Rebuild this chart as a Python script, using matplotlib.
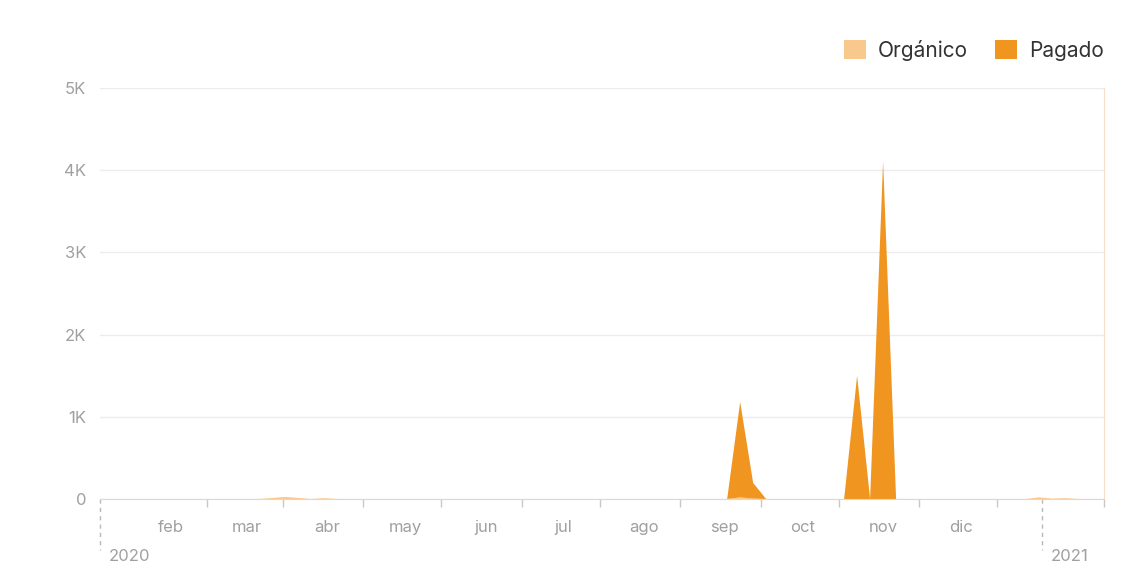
import matplotlib.pyplot as plt
import matplotlib.dates as mdates
import matplotlib.patches as mpatches
import matplotlib.transforms as mtransforms
import pandas as pd

plt.rcParams["font.family"] = ["Inter", "DejaVu Sans"]

# sampled points (every ~5 days, only where something happens)
dates = pd.to_datetime([
    "2020-01-04", "2020-03-06", "2020-03-16", "2020-03-26", "2020-03-31",
    "2020-04-05", "2020-09-02", "2020-09-07", "2020-09-12", "2020-09-17",
    "2020-10-17", "2020-10-22", "2020-10-27", "2020-11-01", "2020-11-06",
    "2020-12-26", "2020-12-31", "2021-01-05", "2021-01-10", "2021-01-15",
    "2021-01-25",
])
organico = [0, 0, 25, 0, 10, 0, 0, 20, 5, 0, 0, 0, 0, 0, 0, 0, 20, 5, 10, 0, 0]
pagado = [0, 0, 0, 0, 0, 0, 0, 1160, 190, 0, 0, 1500, 0, 4110, 0, 0, 0, 0, 0, 0, 0]

series_names = ["Orgánico", "Pagado"]
series_colors = ["#F9C88C", "#F0951F"]

month_ticks = pd.to_datetime(["2020-%02d-01" % m for m in range(2, 13)])
month_labels = ["feb", "mar", "abr", "may", "jun", "jul", "ago", "sep", "oct", "nov", "dic"]
mid_ticks = pd.to_datetime(["2020-%02d-15" % m for m in range(2, 13)])
y_ticks = [0, 1000, 2000, 3000, 4000, 5000]
y_labels = ["0", "1K", "2K", "3K", "4K", "5K"]

x_start = pd.Timestamp("2020-01-04 16:00")
x_end = pd.Timestamp("2021-01-25")
year_2021 = pd.Timestamp("2021-01-01")

fig = plt.figure(figsize=(11.35, 5.76), dpi=100)
ax = fig.add_axes([100 / 1135, 1 - 499 / 576, 1004 / 1135, 411 / 576])

ax.stackplot(dates, organico, pagado, colors=series_colors, linewidth=0)

ax.set_xlim(x_start, x_end)
ax.set_ylim(0, 5000)

ax.set_yticks(y_ticks)
ax.set_yticklabels(y_labels)
ax.tick_params(axis="y", length=0, pad=10, labelsize=12, labelcolor="#a0a0a0")
ax.yaxis.grid(True, color="#ececec", linewidth=1)
ax.set_axisbelow(True)

ax.set_xticks(month_ticks)
ax.set_xticklabels(month_labels)
ax.tick_params(axis="x", which="major", length=0, pad=15, labelsize=12, labelcolor="#a0a0a0")
ax.set_xticks(list(mid_ticks) + [x_end], minor=True)
ax.tick_params(axis="x", which="minor", length=6, width=1, color="#c8c8c8")

for s in ["top", "left"]:
    ax.spines[s].set_visible(False)
ax.spines["bottom"].set_color("#F6D3A8")
ax.spines["right"].set_color("#F8DEC4")

# year markers below the axis
trans = mtransforms.blended_transform_factory(ax.transData, ax.transAxes)
for d, lab in [(x_start, "2020"), (year_2021, "2021")]:
    ax.plot([d, d], [0, -0.125], transform=trans, clip_on=False,
            color="#b8b8b8", linestyle=(0, (3, 3)), linewidth=1)
    ax.text(d + pd.Timedelta(days=3.5), -0.14, lab, transform=trans, ha="left", va="center",
            fontsize=12, color="#a0a0a0")

handles = [mpatches.Patch(facecolor=c, edgecolor="none", label=n)
           for n, c in zip(series_names, series_colors)]
fig.legend(handles=handles, loc="upper right", bbox_to_anchor=(1123 / 1135, 1 - 21 / 576),
           ncol=2, frameon=False, fontsize=15, labelcolor="#333333",
           handlelength=1.05, handleheight=1.05, handletextpad=0.6, columnspacing=1.3)

fig.savefig("out.png", dpi=100, facecolor="white")
